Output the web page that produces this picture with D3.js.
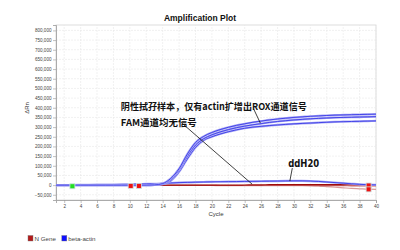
<!DOCTYPE html>
<html>
<head>
<meta charset="utf-8">
<script src="https://cdn.jsdelivr.net/npm/d3@7"></script>
<style>
  body { margin: 0; background: #fff; }
  svg { display: block; font-family: "Liberation Sans", Arial, sans-serif; }
</style>
</head>
<body>
<svg id="chart" width="400" height="250"></svg>
<script>
// cycles on the x axis
var cycles = [1,2,3,4,5,6,7,8,9,10,11,12,13,14,15,16,17,18,19,20,
  21,22,23,24,25,26,27,28,29,30,31,32,33,34,35,36,37,38,39,40];

var xTicks = [2,4,6,8,10,12,14,16,18,20,22,24,26,28,30,32,34,36,38,40];
var yTicks = [-50000,0,50000,100000,150000,200000,250000,300000,350000,
  400000,450000,500000,550000,600000,650000,700000,750000,800000];

// beta-actin (ROX) amplification, 3 replicates
var actinA = [0,0,0,0,0,0,0,0,0,0,0,0,1000,8000,35000,85000,160000,220000,252000,272000,
  287000,299000,309000,317000,325000,331000,337000,342000,346000,350000,
  353000,356000,358000,360000,362000,363000,364000,365000,366000,367000];
var actinB = [0,0,0,0,0,0,0,0,0,0,0,0,1000,6000,28000,78000,148000,207000,240000,260000,
  275000,287000,297000,305000,312000,318000,324000,329000,333000,337000,
  340000,343000,345000,347000,349000,350000,351000,352000,353000,354000];
var actinC = [0,0,0,0,0,0,0,0,0,0,0,0,1000,5000,22000,68000,135000,195000,232000,250000,
  264000,276000,286000,294000,300000,304000,308000,311000,314000,317000,
  319000,321000,323000,325000,327000,328000,329000,330000,331000,332000];
// beta-actin, ddH20
var actinWater = [0,0,500,1000,1500,2000,2500,3000,3500,4000,5000,6000,7000,9000,11000,13000,14000,15000,16000,17000,
  17500,18000,18500,19000,19500,20000,20500,21000,21500,22000,
  22000,21000,19000,16000,13000,10000,7000,4000,2000,1000];

// N Gene (FAM), no signal
var nGene1 = [0,0,0,0,0,0,0,0,0,0,0,0,0,0,0,0,0,0,0,0,
  0,0,0,500,1000,1500,2000,2500,3000,3000,3000,3000,3000,3000,3000,3000,3000,3000,3000,3000];
var nGene2 = [0,0,0,0,0,-500,-500,-1000,-1000,-1000,-1500,-1500,-1500,-2000,-2000,-2000,-2000,-2000,-2000,-2000,
  -2500,-2500,-2500,-2500,-3000,-3000,-3000,-3000,-3000,-3000,-3000,-3500,-5000,-8000,-11000,-14000,-17000,-19000,-21000,-22000];
var nGene3 = [0,0,0,0,0,0,-500,-500,-500,-1000,-1000,-1000,-1000,-1000,-1500,-1500,-1500,-1500,-1500,-1500,
  -2000,-2000,-2000,-2000,-2000,-2000,-2000,-2000,-2000,-2000,-2000,-2000,-2000,-2500,-3000,-3000,-3500,-3500,-4000,-4000];

// threshold-cycle markers
var markerCycles = [3, 10.1, 11.1, 39.1, 39.1];
var markerValues = [-6000, -4000, -4000, -2000, -22000];
var markerColors = ["#22dd22", "#ee1111", "#ee1111", "#ee1111", "#ee1111"];

var title = "Amplification Plot";
var note1 = "阴性拭孖样本，仅有actin扩增出ROX通道信号";
var note2 = "FAM通道均无信号";
var note3 = "ddH20";

var svg = d3.select("#chart");
var m = {left: 56, right: 24, top: 25, bottom: 50};
var W = 400, H = 250;

var x = d3.scaleLinear().domain([1, 40]).range([m.left, W - m.right]);
var y = d3.scaleLinear().domain([-77000, 828000]).range([H - m.bottom, m.top]);

// plot frame + grid
svg.append("rect")
  .attr("x", x(1)).attr("y", y(828000))
  .attr("width", x(40) - x(1)).attr("height", y(-77000) - y(828000))
  .attr("fill", "#fff").attr("stroke", "#d4d4d4").attr("stroke-width", 0.8);

svg.append("g").selectAll("line").data(xTicks).enter().append("line")
  .attr("x1", function(d) { return x(d); }).attr("x2", function(d) { return x(d); })
  .attr("y1", y(-77000)).attr("y2", y(828000))
  .attr("stroke", "#e8e8e8").attr("stroke-width", 0.6).attr("stroke-dasharray", "2,1");
svg.append("g").selectAll("line").data(yTicks).enter().append("line")
  .attr("x1", x(1)).attr("x2", x(40))
  .attr("y1", function(d) { return y(d); }).attr("y2", function(d) { return y(d); })
  .attr("stroke", "#e8e8e8").attr("stroke-width", 0.6).attr("stroke-dasharray", "2,1");

// axes
var yAxis = d3.axisLeft(y).tickValues(yTicks).tickSize(3).tickPadding(1.5)
  .tickFormat(d3.format(","));
var gy = svg.append("g").attr("transform", "translate(" + x(1) + ",0)").call(yAxis);
var xAxis = d3.axisBottom(x).tickValues(xTicks).tickSize(3).tickPadding(2);
var gx = svg.append("g").attr("transform", "translate(0," + y(-77000) + ")").call(xAxis);
[gx, gy].forEach(function(g) {
  g.select(".domain").attr("stroke", "#999").attr("stroke-width", 0.8);
  g.selectAll(".tick line").attr("stroke", "#999").attr("stroke-width", 0.6);
  g.selectAll(".tick text").attr("fill", "#444").style("font-size", "4.6px");
});

svg.append("text").attr("x", 216).attr("y", 216)
  .attr("text-anchor", "middle").style("font-size", "6px").attr("fill", "#333").text("Cycle");
svg.append("text").attr("transform", "translate(29,108) rotate(-90)")
  .attr("text-anchor", "middle").style("font-size", "6px").attr("fill", "#333").text("ΔRn");

svg.append("text").attr("x", 200).attr("y", 21)
  .attr("text-anchor", "middle").style("font-size", "8.5px").style("font-weight", "bold")
  .attr("fill", "#111").text(title);

// curves
var line = d3.line()
  .x(function(d, i) { return x(cycles[i]); })
  .y(function(d) { return y(d); })
  .curve(d3.curveMonotoneX);

var reds = [
  {data: nGene2, color: "#d99a9a"},
  {data: nGene3, color: "#c86060"},
  {data: nGene1, color: "#9e0b0b"}
];
reds.forEach(function(s) {
  svg.append("path").attr("d", line(s.data)).attr("fill", "none")
    .attr("stroke", s.color).attr("stroke-width", 1.2);
});

[actinWater, actinC, actinB, actinA].forEach(function(s) {
  svg.append("path").attr("d", line(s)).attr("fill", "none")
    .attr("stroke", "#a8a8f4").attr("stroke-width", 2.2);
  svg.append("path").attr("d", line(s)).attr("fill", "none")
    .attr("stroke", "#2b2be6").attr("stroke-width", 0.8);
});

// Ct markers
svg.append("g").selectAll("rect").data(markerCycles).enter().append("rect")
  .attr("x", function(d) { return x(d) - 2.5; })
  .attr("y", function(d, i) { return y(markerValues[i]) - 2.5; })
  .attr("width", 5).attr("height", 5)
  .attr("fill", function(d, i) { return markerColors[i]; })
  .attr("stroke", "#cfe3e3").attr("stroke-width", 0.8);

// annotations
var pointers = [
  [[25.1, 393000], [25.9, 321000]],
  [[16.2, 326000], [24.9, 5000]],
  [[29.8, 88000], [29.5, 21000]]
];
pointers.forEach(function(p) {
  svg.append("line")
    .attr("x1", x(p[0][0])).attr("y1", y(p[0][1]))
    .attr("x2", x(p[1][0])).attr("y2", y(p[1][1]))
    .attr("stroke", "#111").attr("stroke-width", 0.8);
});

var cjk = '"Noto Sans CJK SC", "Liberation Sans", sans-serif';
svg.append("text").attr("x", x(8.9)).attr("y", y(390000))
  .style("font-family", cjk).style("font-size", "9.5px").style("font-weight", "bold")
  .attr("textLength", 186).attr("lengthAdjust", "spacingAndGlyphs")
  .attr("fill", "#111").text(note1);
svg.append("text").attr("x", x(8.9)).attr("y", y(306000))
  .style("font-family", cjk).style("font-size", "9.5px").style("font-weight", "bold")
  .attr("textLength", 76).attr("lengthAdjust", "spacingAndGlyphs")
  .attr("fill", "#111").text(note2);
svg.append("text").attr("x", x(29.3)).attr("y", y(93000))
  .style("font-family", '"DejaVu Sans", sans-serif').style("font-size", "10px").style("font-weight", "bold")
  .attr("textLength", 31).attr("lengthAdjust", "spacingAndGlyphs")
  .attr("fill", "#111").text(note3);

// legend
var legend = [{name: "N Gene", color: "#b31b1b"}, {name: "beta-actin", color: "#1010ff"}];
var lx = 28;
legend.forEach(function(d) {
  svg.append("rect").attr("x", lx).attr("y", 235.5).attr("width", 5).attr("height", 5.5)
    .attr("fill", d.color).attr("stroke", "#777").attr("stroke-width", 0.4);
  var t = svg.append("text").attr("x", lx + 6.5).attr("y", 240.5)
    .style("font-size", "6.2px").attr("fill", "#444").text(d.name);
  lx += 6.5 + t.node().getComputedTextLength() + 6;
});
</script>
</body>
</html>
